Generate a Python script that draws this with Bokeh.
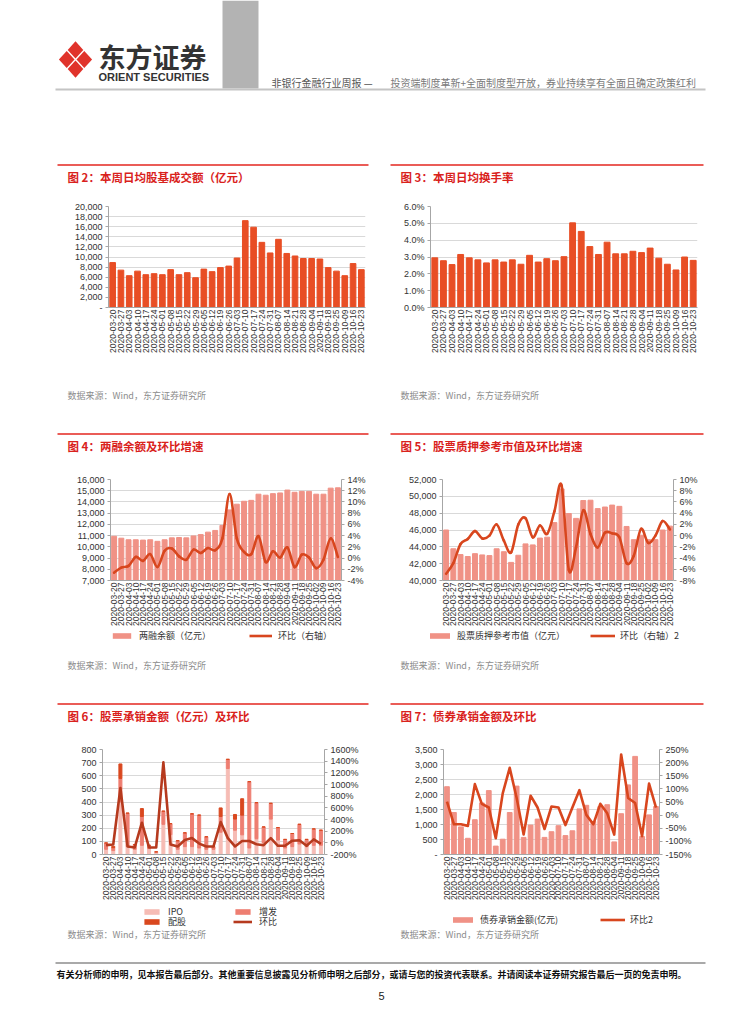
import math
import numpy as np
from bokeh.plotting import figure
from bokeh.models import (Range1d, FactorRange, LinearAxis, FixedTicker, Legend,
                          LegendItem, ColumnDataSource)
from bokeh.layouts import column, row
from bokeh.embed import file_html
from bokeh.resources import INLINE
from bokeh.core.properties import value

CJK = "Noto Sans CJK SC"
LAT = "Liberation Sans"

# ---------------- data ----------------
dates = ["2020-03-20", "2020-03-27", "2020-04-03", "2020-04-10", "2020-04-17", "2020-04-24",
         "2020-05-01", "2020-05-08", "2020-05-15", "2020-05-22", "2020-05-29", "2020-06-05",
         "2020-06-12", "2020-06-19", "2020-06-26", "2020-07-03", "2020-07-10", "2020-07-17",
         "2020-07-24", "2020-07-31", "2020-08-07", "2020-08-14", "2020-08-21", "2020-08-28",
         "2020-09-04", "2020-09-11", "2020-09-18", "2020-09-25", "2020-10-09", "2020-10-16",
         "2020-10-23"]
dates_margin = dates[:28] + ["2020-10-02"] + dates[28:]

stock_turnover = [8900, 7400, 6300, 7200, 6500, 6700, 6500, 7500, 6500, 6900, 5900, 7600,
                  7100, 7900, 8200, 9800, 17200, 15900, 12900, 10800, 13500, 10700, 10200,
                  9700, 9700, 9600, 7900, 7200, 6300, 8700, 7500]
turnover_rate = [2.95, 2.78, 2.55, 3.15, 2.95, 2.83, 2.65, 2.83, 2.70, 2.83, 2.57, 3.10,
                 2.70, 2.90, 2.78, 3.02, 5.03, 4.52, 3.62, 3.15, 3.88, 3.19, 3.19, 3.34,
                 3.26, 3.53, 2.93, 2.57, 2.23, 3.00, 2.80]
margin_balance = [10940, 10770, 10630, 10630, 10600, 10630, 10490, 10630, 10800, 10830,
                  10800, 10970, 11090, 11310, 11460, 11910, 13290, 13800, 14060, 14140,
                  14690, 14600, 14740, 14800, 15060, 14860, 14940, 14940, 14690, 14690,
                  15230, 15260]
margin_wow = [-2.6, -1.7, -1.4, 0.2, -0.5, 0.7, -1.6, 1.3, 1.7, 0.3, -0.3, 1.5, 0.9, 1.8,
              1.4, 3.5, 11.4, 3.5, 1.1, 0.7, 3.9, -0.7, 1.2, 0.1, 1.9, -1.6, 0.6, 0.1,
              -1.8, -0.3, 3.5, 0.2]
pledge_value = [46000, 43770, 43080, 42850, 43190, 43040, 42960, 43770, 43420, 42150,
                43000, 44350, 44230, 45040, 45150, 46880, 50880, 47960, 47380, 49500,
                49540, 48540, 48730, 48960, 48810, 46420, 44850, 45380, 44850, 44850,
                46000, 46460]
pledge_wow = [-6.8, -4.9, -1.5, -0.6, 0.8, -0.5, 0.0, 2.0, -0.9, -3.0, 2.0, 3.1, -0.3, 1.8,
              0.3, 4.3, 8.9, -6.1, -2.1, 4.5, 0.3, -2.1, 0.5, 0.4, -0.3, -4.9, -3.6, 1.2,
              -1.3, 0.0, 2.6, 1.1]
ipo_amt = [40, 30, 400, 60, 40, 70, 45, 20, 230, 150, 40, 60, 60, 50, 40, 40, 170, 655,
           185, 150, 50, 120, 90, 270, 110, 50, 60, 80, 60, 70, 70]
seo_amt = [48, 22, 180, 255, 35, 220, 25, 0, 100, 85, 65, 105, 250, 250, 95, 20, 120, 70,
           85, 150, 505, 275, 120, 120, 95, 65, 100, 150, 55, 125, 115]
rights_amt = [0, 10, 110, 0, 0, 60, 0, 0, 0, 0, 0, 0, 0, 0, 0, 0, 65, 0, 35, 125, 0, 0, 0,
              0, 0, 0, 0, 0, 0, 0, 0]
equity_wow = [-40, -29, 940, -62, -79, 345, -79, -79, 1380, -29, -62, 48, 81, -13, -62, -62,
              356, 81, -62, 32, 32, -24, -40, 81, -51, -51, 37, 43, -51, 59, -18]
bond_amt = [2260, 1400, 920, 540, 1160, 1720, 2130, 280, 510, 1400, 2280, 570, 980, 1180,
            570, 760, 960, 630, 790, 1520, 1640, 1100, 1600, 1660, 420, 1360, 2320, 3270,
            600, 1320, 1600]
bond_wow = [51, -35, -35, -41, 118, 43, 29, -88, 83, 180, 65, -74, 74, 29, -53, 33, 29, -38,
            29, 95, 1, -35, 43, 7, -74, 231, 65, 46, -80, 120, 29]

# tick values and labels
t2_vals = list(range(0, 20001, 2000))
t2_labels = ["-"] + [f"{v:,}" for v in t2_vals[1:]]
t3_vals = [0, 1, 2, 3, 4, 5, 6]
t3_labels = [f"{v:.1f}%" for v in t3_vals]
t4_vals = list(range(7000, 16001, 1000))
t4_labels = [f"{v:,}" for v in t4_vals]
t4r_vals = list(range(-4, 15, 2))
t4r_labels = [f"{v}%" for v in t4r_vals]
t5_vals = list(range(40000, 52001, 2000))
t5_labels = [f"{v:,}" for v in t5_vals]
t5r_vals = list(range(-8, 11, 2))
t5r_labels = [f"{v}%" for v in t5r_vals]
t6_vals = list(range(0, 801, 100))
t6_labels = [str(v) for v in t6_vals]
t6r_vals = list(range(-200, 1601, 200))
t6r_labels = [f"{v}%" for v in t6r_vals]
t7_vals = list(range(0, 3501, 500))
t7_labels = ["-"] + [f"{v:,}" for v in t7_vals[1:]]
t7r_vals = list(range(-150, 251, 50))
t7r_labels = [f"{v}%" for v in t7r_vals]

titles = ["图 2：本周日均股基成交额（亿元）", "图 3：本周日均换手率",
          "图 4：两融余额及环比增速", "图 5：股票质押参考市值及环比增速",
          "图 6：股票承销金额（亿元）及环比", "图 7：债券承销金额及环比"]
legend4 = ["两融余额（亿元）", "环比（右轴）"]
legend5 = ["股票质押参考市值（亿元）", "环比（右轴）2"]
legend6 = ["IPO", "增发", "配股", "环比"]
legend7 = ["债券承销金额(亿元)", "环比2"]
source_note = "数据来源：Wind，东方证券研究所"

# ---------------- colours ----------------
RED_BAR = "#E84E25"
PINK_BAR = "#F09286"
LINE_RED = "#D8461E"
TITLE_RED = "#D9221C"
IPO_C, SEO_C, RIGHTS_C, LINE6_C = "#F6BCB5", "#EE7E71", "#D9481F", "#B63A1E"
AX = "#A6A6A6"


def style_axis(ax):
    ax.axis_line_color = AX
    ax.major_tick_line_color = AX
    ax.major_tick_out = 3
    ax.major_tick_in = 0
    ax.minor_tick_line_color = None
    ax.major_label_text_font = LAT
    ax.major_label_text_font_size = "9px"
    ax.major_label_text_color = "#333333"
    ax.major_label_standoff = 3


def make_chart(factors, w, h, bl, br, bt, bb, ylo, yhi, yticks, ylabels):
    p = figure(width=w, height=h, x_range=FactorRange(factors=factors),
               y_range=Range1d(ylo, yhi), output_backend="svg", toolbar_location=None,
               min_border_left=bl, min_border_right=br, min_border_top=bt,
               min_border_bottom=bb)
    p.outline_line_color = None
    p.xgrid.grid_line_color = None
    tk = FixedTicker(ticks=yticks)
    p.yaxis.ticker = tk
    p.ygrid.ticker = tk
    p.ygrid.grid_line_color = "#D9D9D9"
    p.yaxis.major_label_overrides = dict(zip(yticks, ylabels))
    style_axis(p.yaxis[0])
    style_axis(p.xaxis[0])
    p.xaxis.major_label_orientation = math.pi / 2
    p.xaxis.major_tick_line_color = None
    p.xaxis.major_tick_out = 0
    p.xaxis.major_label_standoff = 2
    p.xaxis.major_label_text_font_size = "8.5px"
    return p


def add_right_axis(p, lo, hi, ticks, labels):
    p.extra_y_ranges = {"r": Range1d(lo, hi)}
    ax = LinearAxis(y_range_name="r", ticker=FixedTicker(ticks=ticks),
                    major_label_overrides=dict(zip(ticks, labels)))
    style_axis(ax)
    p.add_layout(ax, "right")


def smooth_line(p, vals, color, width=2.6):
    ys = np.array(vals, dtype=float)
    n = len(ys)
    xs = np.arange(n) + 0.5
    i = np.arange(n - 1)
    im = np.maximum(i - 1, 0)
    ip = np.minimum(i + 2, n - 1)
    cx0 = xs[i] + (xs[i + 1] - xs[im]) / 6
    cy0 = ys[i] + (ys[i + 1] - ys[im]) / 6
    cx1 = xs[i + 1] - (xs[ip] - xs[i]) / 6
    cy1 = ys[i + 1] - (ys[ip] - ys[i]) / 6
    return p.bezier(x0=xs[:-1], y0=ys[:-1], x1=xs[1:], y1=ys[1:], cx0=cx0, cy0=cy0,
                    cx1=cx1, cy1=cy1, y_range_name="r", line_color=color,
                    line_width=width, line_cap="round")


def band(y0, y1):
    p = figure(width=754, height=int(y1 - y0), x_range=Range1d(0, 754),
               y_range=Range1d(y1, y0), output_backend="svg", toolbar_location=None,
               x_axis_location=None, y_axis_location=None, min_border=0)
    p.min_border_left = p.min_border_right = p.min_border_top = p.min_border_bottom = 0
    p.grid.visible = False
    p.outline_line_color = None
    return p


def band_legend(p, entries, vx, vy, gw, gh, lw, standoff):
    """entries: (label, kind, colour). Legend keys come from zero-size proxy renderers
    (placed outside the band's visible range) that carry the series styling."""
    items = []
    for label, kind, color in entries:
        if kind == "bar":
            r = p.vbar(x=[0], top=[0], bottom=[0], width=0, fill_color=color, line_color=None)
        else:
            r = p.line(x=[0, 0], y=[0, 0], line_color=color, line_width=2.6)
        items.append(LegendItem(label=label, renderers=[r]))
    leg = Legend(items=items, location=(vx, vy), orientation="horizontal", padding=0,
                 margin=0, spacing=0, border_line_color=None, background_fill_alpha=0,
                 glyph_width=gw, glyph_height=gh, label_width=lw, label_height=9,
                 label_standoff=standoff, label_text_font=CJK,
                 label_text_font_size="9px", label_text_color="#333333")
    p.add_layout(leg)


def put_text(p, x, y, s, size, color, bold=False, font=CJK, align="left"):
    p.text(x=[x], y=[y], text=[s], text_font=value(font), text_font_size=value(size),
           text_color=color, text_font_style="bold" if bold else "normal",
           text_baseline="middle", text_align=align)


def title_block(p, y_line, y_title, left_title, right_title):
    p.segment(x0=[57, 390], y0=[y_line, y_line], x1=[368, 703], y1=[y_line, y_line],
              line_color="#E3261F", line_width=1.6)
    put_text(p, 67, y_title, left_title, "11.5px", TITLE_RED, bold=True)
    put_text(p, 400, y_title, right_title, "11.5px", TITLE_RED, bold=True)


def source_block(p, y):
    put_text(p, 67, y, source_note, "9px", "#8C8C8C")
    put_text(p, 400, y, source_note, "9px", "#8C8C8C")


# ---------------- header band ----------------
bA = band(0, 196)
bA.quad(left=[222], right=[258], top=[0], bottom=[88], fill_color="#B3B3B3", line_color=None)
cx, cy, hx, hy, g = 75, 59, 8.8, 9.6, 1.0
cents = [(cx, cy - hy), (cx + hx, cy), (cx, cy + hy), (cx - hx, cy)]
bA.patches(xs=[[x - hx + g, x, x + hx - g, x] for x, y in cents],
           ys=[[y, y - hy + g, y, y + hy - g] for x, y in cents],
           fill_color="#E0332B", line_color=None)
put_text(bA, 98, 56, "东方证券", "27px", "#333333", bold=True)
put_text(bA, 98, 76, "ORIENT SECURITIES", "11px", "#333333", bold=True, font=LAT)
put_text(bA, 271, 82, "非银行金融行业周报 —", "10px", "#555555")
put_text(bA, 390, 82, "投资端制度革新+全面制度型开放，券业持续享有全面且确定政策红利", "10px", "#7A7A7A")
bA.segment(x0=[55], y0=[89], x1=[705], y1=[89], line_color="#C4C4C4", line_width=2)
title_block(bA, 164.5, 176, titles[0], titles[1])

# ---------------- chart 2 / 3 ----------------
c2 = make_chart(dates, 380, 189, 108, 15, 10, 78, 0, 20000, t2_vals, t2_labels)
c2.vbar(x=dates, top=stock_turnover, width=0.68, color=RED_BAR)
c3 = make_chart(dates, 374, 189, 50, 57, 8, 75, 0, 6, t3_vals, t3_labels)
c3.vbar(x=dates, top=turnover_rate, width=0.68, color=RED_BAR)

bC = band(385, 465)
source_block(bC, 395)
title_block(bC, 433.5, 445, titles[2], titles[3])

# ---------------- chart 4 ----------------
c4 = make_chart(dates_margin, 380, 163, 110, 39, 12, 46, 7000, 16000, t4_vals, t4_labels)
add_right_axis(c4, -4, 14, t4r_vals, t4r_labels)
c4.vbar(x=dates_margin, top=margin_balance, bottom=7000, width=0.68, color=PINK_BAR)
smooth_line(c4, margin_wow, LINE_RED)

# ---------------- chart 5 ----------------
c5 = make_chart(dates_margin, 374, 163, 62, 81, 14, 45, 40000, 52000, t5_vals, t5_labels)
add_right_axis(c5, -8, 10, t5r_vals, t5r_labels)
c5.vbar(x=dates_margin, top=pledge_value, bottom=40000, width=0.68, color=PINK_BAR)
smooth_line(c5, pledge_wow, LINE_RED)

bE = band(628, 735)
band_legend(bE, [(legend4[0], "bar", PINK_BAR), (legend4[1], "line", LINE_RED)],
            110, 93, 23, 7, 110, 6)
band_legend(bE, [(legend5[0], "bar", PINK_BAR), (legend5[1], "line", LINE_RED)],
            427, 93, 25, 7, 133, 5)
source_block(bE, 665)
title_block(bE, 703.5, 715, titles[4], titles[5])

# ---------------- chart 6 ----------------
c6 = make_chart(dates, 380, 168, 102, 56, 10, 49, 0, 800, t6_vals, t6_labels)
add_right_axis(c6, -200, 1600, t6r_vals, t6r_labels)
src6 = ColumnDataSource(dict(d=dates, ipo=ipo_amt, seo=seo_amt, rights=rights_amt))
c6.vbar_stack(["ipo", "seo", "rights"], x="d", width=0.42,
              color=[IPO_C, SEO_C, RIGHTS_C], source=src6)
c6.line(x=dates, y=equity_wow, y_range_name="r", line_color=LINE6_C,
        line_width=2.6, line_join="round")

# ---------------- chart 7 ----------------
c7 = make_chart(dates, 374, 168, 63, 95, 14, 47, 0, 3500, t7_vals, t7_labels)
add_right_axis(c7, -150, 250, t7r_vals, t7r_labels)
c7.vbar(x=dates, top=bond_amt, width=0.68, color=PINK_BAR)
c7.line(x=dates, y=bond_wow, y_range_name="r", line_color=LINE_RED,
        line_width=2.6, line_join="round")

# ---------------- footer band ----------------
bG = band(903, 1020)
band_legend(bG, [(legend6[0], "bar", IPO_C), (legend6[1], "bar", SEO_C)],
            142, 102, 19, 7, 65, 7)
band_legend(bG, [(legend6[2], "bar", RIGHTS_C), (legend6[3], "line", LINE6_C)],
            142, 92, 19, 7, 65, 7)
band_legend(bG, [(legend7[0], "bar", PINK_BAR), (legend7[1], "line", LINE_RED)],
            450, 94, 25, 7, 120, 5)
source_block(bG, 934)
bG.segment(x0=[55], y0=[962.5], x1=[705], y1=[962.5], line_color="#8C8C8C", line_width=1.5)
put_text(bG, 56, 974, "有关分析师的申明，见本报告最后部分。其他重要信息披露见分析师申明之后部分，或请与您的投资代表联系。并请阅读本证券研究报告最后一页的免责申明。",
         "9px", "#111111", bold=True)
put_text(bG, 381, 995, "5", "11px", "#222222", font=LAT, align="center")

page = column(bA, row(c2, c3), bC, row(c4, c5), bE, row(c6, c7), bG)

open("out.html", "w").write(file_html(page, INLINE))
